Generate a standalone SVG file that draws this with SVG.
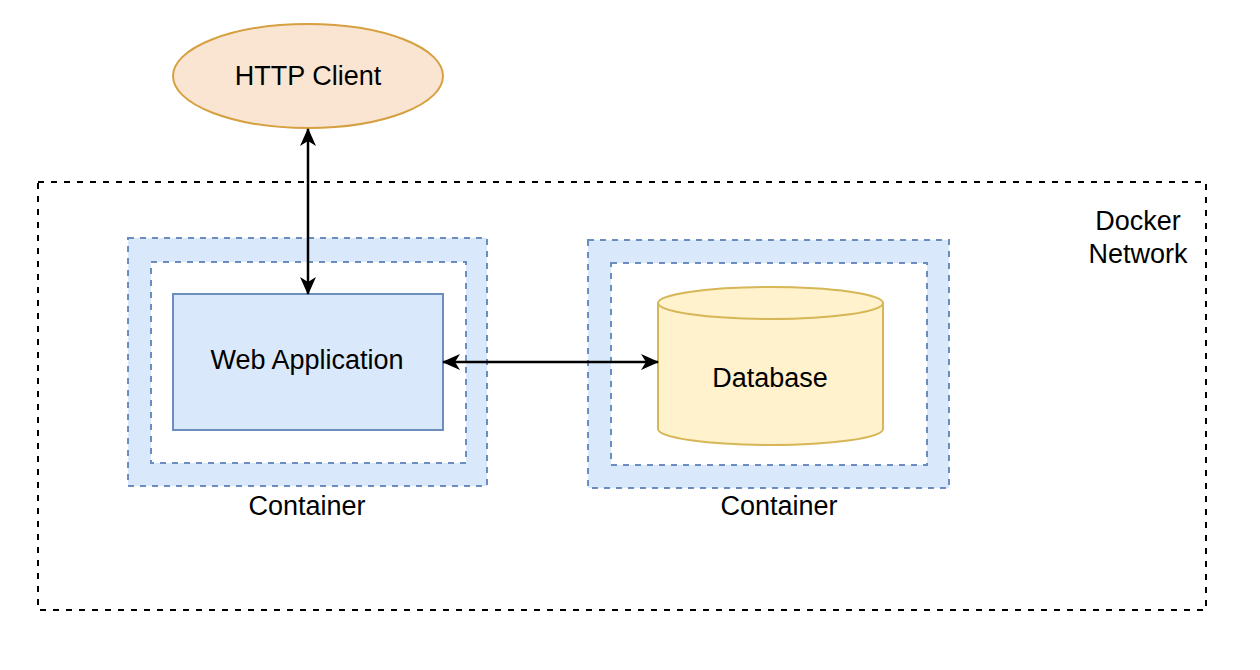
<svg xmlns="http://www.w3.org/2000/svg" width="1260" height="670" viewBox="0 0 1260 670">
<style>
.t{font-family:"Liberation Sans",Arial,sans-serif;font-size:27px;fill:#000;text-anchor:middle}
.net{fill:none;stroke:#000;stroke-width:2;stroke-dasharray:6 7}
.cont{fill:#dae8fc;stroke:#6c8ebf;stroke-width:2;stroke-dasharray:6 6}
.inner{fill:#fff;stroke:#6c8ebf;stroke-width:2;stroke-dasharray:6 6}
.conn{fill:none;stroke:#000;stroke-width:2.5;marker-start:url(#ah);marker-end:url(#ah)}
</style>
<defs>
<marker id="ah" viewBox="0 0 18 16" refX="17" refY="8" markerWidth="18" markerHeight="16" markerUnits="userSpaceOnUse" orient="auto-start-reverse">
<path d="M0,0 L18,8 L0,16 L5,8 Z" fill="#000"/>
</marker>
</defs>
<rect width="1260" height="670" fill="#fff"/>
<g id="docker-network">
<rect class="net" x="38" y="182" width="1168" height="428"/>
<text class="t" x="1138" y="230">Docker</text>
<text class="t" x="1138" y="263">Network</text>
</g>
<g id="container-web">
<rect class="cont" x="128" y="238" width="359" height="248"/>
<rect class="inner" x="151" y="262" width="315" height="201"/>
<text class="t" x="307" y="515">Container</text>
</g>
<g id="container-db">
<rect class="cont" x="588" y="240" width="361" height="248"/>
<rect class="inner" x="611" y="263" width="316" height="202"/>
<text class="t" x="779" y="515">Container</text>
</g>
<g id="http-client">
<ellipse cx="308" cy="76" rx="135" ry="52" fill="#fae5d3" stroke="#d6a040" stroke-width="2"/>
<text class="t" x="308" y="85">HTTP Client</text>
</g>
<g id="web-app">
<rect x="173" y="294" width="270" height="136" fill="#dae8fc" stroke="#6c8ebf" stroke-width="2"/>
<text class="t" x="307" y="369">Web Application</text>
</g>
<g id="database">
<path d="M658,303 A112.5,16 0 0 1 883,303 L883,429 A112.5,16 0 0 1 658,429 Z" fill="#fff2cc" stroke="#d6b656" stroke-width="2"/>
<path d="M658,303 A112.5,16 0 0 0 883,303" fill="none" stroke="#d6b656" stroke-width="2"/>
<text class="t" x="770" y="387">Database</text>
</g>
<g id="connectors">
<line class="conn" x1="308" y1="129" x2="308" y2="294"/>
<line class="conn" x1="443" y1="362" x2="658" y2="362"/>
</g>
</svg>
